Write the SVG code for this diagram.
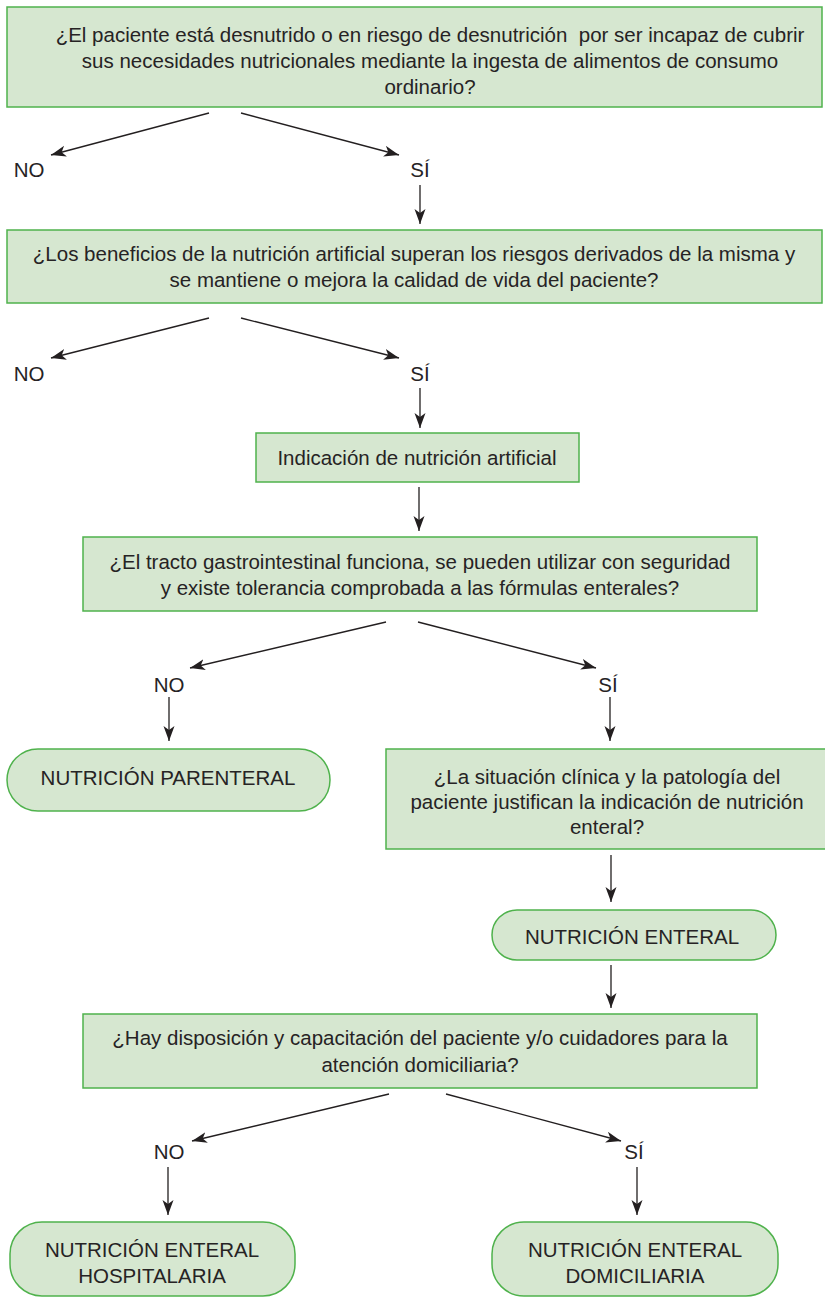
<svg xmlns="http://www.w3.org/2000/svg" width="825" height="1299" viewBox="0 0 825 1299">
<style>
.box{fill:#d6e7d0;stroke:#4fb24c;stroke-width:1.5}
.t{font-family:"Liberation Sans",Arial,sans-serif;font-size:20.5px;fill:#262324;text-anchor:middle}
.c{stroke:#231f20;stroke-width:1.3;fill:none;marker-end:url(#ah)}
</style>
<defs>
<marker id="ah" markerUnits="userSpaceOnUse" markerWidth="18" markerHeight="14" refX="15" refY="5.5" orient="auto">
<path d="M0,0 L15,5.5 L0,11 L4,5.5 z" fill="#231f20"/>
</marker>
</defs>
<rect width="825" height="1299" fill="#ffffff"/>
<g id="q1">
<rect class="box" x="7" y="7" width="815" height="100"/>
<text class="t" x="430" y="42" xml:space="preserve">¿El paciente está desnutrido o en riesgo de desnutrición  por ser incapaz de cubrir</text>
<text class="t" x="430" y="68">sus necesidades nutricionales mediante la ingesta de alimentos de consumo</text>
<text class="t" x="430" y="94">ordinario?</text>
</g>
<g id="l1no"><text class="t" x="29" y="177">NO</text></g>
<g id="l1si"><text class="t" x="420" y="177">SÍ</text></g>
<g id="q2">
<rect class="box" x="7" y="230" width="815" height="73"/>
<text class="t" x="414" y="261">¿Los beneficios de la nutrición artificial superan los riesgos derivados de la misma y</text>
<text class="t" x="414" y="287">se mantiene o mejora la calidad de vida del paciente?</text>
</g>
<g id="l2no"><text class="t" x="29" y="381">NO</text></g>
<g id="l2si"><text class="t" x="420" y="381">SÍ</text></g>
<g id="ind">
<rect class="box" x="256" y="433" width="323" height="49"/>
<text class="t" x="417" y="465">Indicación de nutrición artificial</text>
</g>
<g id="q3">
<rect class="box" x="83" y="537" width="674" height="74"/>
<text class="t" x="420" y="569">¿El tracto gastrointestinal funciona, se pueden utilizar con seguridad</text>
<text class="t" x="420" y="595">y existe tolerancia comprobada a las fórmulas enterales?</text>
</g>
<g id="l3no"><text class="t" x="169" y="692">NO</text></g>
<g id="l3si"><text class="t" x="608" y="692">SÍ</text></g>
<g id="parenteral">
<rect class="box" x="7" y="749" width="323" height="62" rx="31"/>
<text class="t" x="168" y="785">NUTRICIÓN PARENTERAL</text>
</g>
<g id="q4">
<rect class="box" x="386" y="749" width="445" height="100"/>
<text class="t" x="607" y="784">¿La situación clínica y la patología del</text>
<text class="t" x="607" y="809">paciente justifican la indicación de nutrición</text>
<text class="t" x="607" y="834">enteral?</text>
</g>
<g id="enteral">
<rect class="box" x="492" y="910" width="284" height="50" rx="25"/>
<text class="t" x="632" y="944">NUTRICIÓN ENTERAL</text>
</g>
<g id="q5">
<rect class="box" x="83" y="1014" width="674" height="74"/>
<text class="t" x="420" y="1045">¿Hay disposición y capacitación del paciente y/o cuidadores para la</text>
<text class="t" x="420" y="1072">atención domiciliaria?</text>
</g>
<g id="l4no"><text class="t" x="169" y="1159">NO</text></g>
<g id="l4si"><text class="t" x="634" y="1159">SÍ</text></g>
<g id="hosp">
<rect class="box" x="10" y="1222" width="285" height="74" rx="32"/>
<text class="t" x="152" y="1257">NUTRICIÓN ENTERAL</text>
<text class="t" x="152" y="1283">HOSPITALARIA</text>
</g>
<g id="dom">
<rect class="box" x="492" y="1222" width="286" height="74" rx="32"/>
<text class="t" x="635" y="1257">NUTRICIÓN ENTERAL</text>
<text class="t" x="635" y="1283">DOMICILIARIA</text>
</g>
<g id="connectors">
<line class="c" x1="209" y1="113" x2="51" y2="155"/>
<line class="c" x1="241" y1="113" x2="399" y2="155"/>
<line class="c" x1="420" y1="185" x2="420" y2="224"/>
<line class="c" x1="209" y1="318" x2="51" y2="358"/>
<line class="c" x1="241" y1="318" x2="399" y2="358"/>
<line class="c" x1="420" y1="388" x2="420" y2="428"/>
<line class="c" x1="419" y1="487" x2="419" y2="531"/>
<line class="c" x1="386" y1="622" x2="190" y2="668"/>
<line class="c" x1="418" y1="622" x2="596" y2="668"/>
<line class="c" x1="169" y1="697" x2="169" y2="741"/>
<line class="c" x1="610" y1="697" x2="610" y2="741"/>
<line class="c" x1="611" y1="855" x2="611" y2="902"/>
<line class="c" x1="611" y1="965" x2="611" y2="1008"/>
<line class="c" x1="389" y1="1094" x2="192" y2="1141"/>
<line class="c" x1="446" y1="1094" x2="621" y2="1141"/>
<line class="c" x1="168" y1="1167" x2="168" y2="1215"/>
<line class="c" x1="637" y1="1167" x2="637" y2="1215"/>
</g>
</svg>
